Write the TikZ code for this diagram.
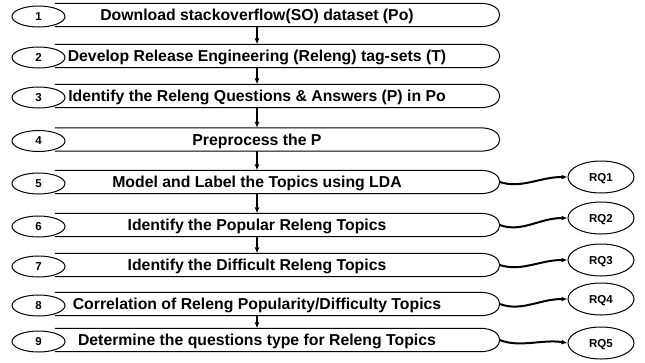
\documentclass[tikz,border=0pt]{standalone}
\usepackage{fontspec}
\setmainfont{Liberation Sans}
\usetikzlibrary{arrows.meta,shapes.geometric}
\begin{document}
\begin{tikzpicture}[x=1pt,y=-1pt,
  boxnode/.style={rectangle,draw=none,minimum width=425pt,minimum height=23pt,inner sep=0pt},
  boxline/.style={line width=1pt},
  numell/.style={ellipse,draw,fill=white,line width=1pt,minimum width=53pt,minimum height=21pt,inner sep=0pt,font=\bfseries\fontsize{11.5}{12}\selectfont},
  rqell/.style={ellipse,draw,fill=white,line width=1pt,minimum width=66pt,minimum height=32pt,inner sep=0pt,text depth=0pt,font=\bfseries\fontsize{11.5}{12}\selectfont},
  lbl/.style={anchor=base,inner sep=0pt,font=\bfseries\fontsize{15.8}{18}\selectfont},
  varrow/.style={line width=2pt,-{Latex[length=6pt,width=5pt]}},
  conn/.style={line width=2pt,-{Latex[length=6pt,width=5pt]}}]
\useasboundingbox (0,0) rectangle (645,362);
\foreach \i/\c/\t in {
  1/15/{Download stackoverflow(SO) dataset (Po)},
  2/56/{Develop Release Engineering (Releng) tag-sets (T)},
  3/96/{Identify the Releng Questions \& Answers (P) in Po},
  4/139.5/{Preprocess the P},
  5/182/{Model and Label the Topics using LDA},
  6/225/{Identify the Popular Releng Topics},
  7/265/{Identify the Difficult Releng Topics},
  8/304/{Correlation of Releng Popularity/Difficulty Topics},
  9/340/{Determine the questions type for Releng Topics}}{
  \node[boxnode] (b\i) at (267.5,\c) {};
  \draw[boxline] (b\i.north west) -- (b\i.north east)
    .. controls +(26,0) and +(26,0) .. (b\i.south east) -- (b\i.south west);
  \coordinate (e\i) at ([xshift=19.5pt]b\i.east);
  \node[numell] (n\i) at (38.5,\c+1.5) {\i};
  \node[lbl] (t\i) at (257,\c+5.7) {\t};
}
\foreach \a/\b in {1/2,2/3,3/4,4/5,5/6,6/7,8/9}{
  \draw[varrow] (b\a.south -| t\a) -- (b\b.north -| t\a);
}
\node[rqell] (r1) at (601,177) {RQ1};
\node[rqell] (r2) at (601,218) {RQ2};
\node[rqell] (r3) at (601,260) {RQ3};
\node[rqell] (r4) at (601,299) {RQ4};
\node[rqell] (r5) at (601,343) {RQ5};
\draw[conn] (e5) .. controls +(22,7) and +(-28,0) .. (r1.west);
\draw[conn] (e6) .. controls +(22,8) and +(-28,0) .. (r2.west);
\draw[conn] (e7) .. controls +(22,7) and +(-28,0) .. (r3.west);
\draw[conn] (e8) .. controls +(22,8) and +(-28,0) .. (r4.west);
\draw[conn] (e9) .. controls +(20,8) and +(-25,-4) .. (r5.west);
\end{tikzpicture}
\end{document}
